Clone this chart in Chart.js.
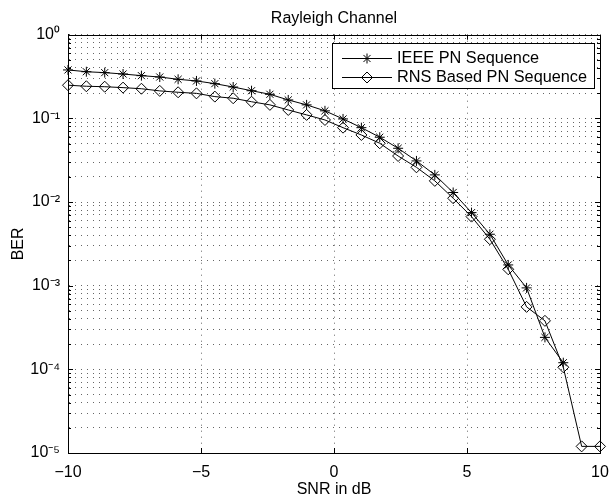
<!DOCTYPE html>
<html>
<head>
<meta charset="utf-8">
<script src="https://cdn.jsdelivr.net/npm/chart.js@4.4.1/dist/chart.umd.min.js"></script>
<style>
  html, body { margin: 0; padding: 0; background: #fff; }
  #wrap { width: 610px; height: 499px; }
</style>
</head>
<body>
<div id="wrap"><canvas id="c" width="610" height="499"></canvas></div>
<script>
// ---- data ----
const snrDb = [-10, -9.31, -8.62, -7.93, -7.24, -6.55, -5.86, -5.17, -4.48, -3.79,
               -3.10, -2.41, -1.72, -1.03, -0.34, 0.34, 1.03, 1.72, 2.41, 3.10,
               3.79, 4.48, 5.17, 5.86, 6.55, 7.24, 7.93, 8.62, 9.31, 10];
const ieeeBer = [0.379, 0.361, 0.352, 0.339, 0.324, 0.312, 0.293, 0.280, 0.260, 0.237,
                 0.214, 0.194, 0.166, 0.145, 0.123, 0.0984, 0.0774, 0.0595, 0.0439, 0.0310,
                 0.0211, 0.0130, 0.00747, 0.00412, 0.00177, 0.000941, 0.000241, 0.000120, null, null];
const rnsBer = [0.249, 0.242, 0.239, 0.233, 0.226, 0.213, 0.205, 0.199, 0.182, 0.174,
                0.158, 0.145, 0.126, 0.110, 0.0957, 0.0774, 0.0633, 0.0504, 0.0355, 0.0260,
                0.0179, 0.0111, 0.00669, 0.00359, 0.00157, 0.000558, 0.000380, 0.000106, 0.0000120, 0.0000120];
const seriesNames = ['IEEE PN Sequence', 'RNS Based PN Sequence'];
const xTickValues = [-10, -5, 0, 5, 10];
const yExponents = [-5, -4, -3, -2, -1, 0];
const titleText = 'Rayleigh Channel';
const xTitle = 'SNR in dB';
const yTitle = 'BER';

// ---- helpers ----
const SUP = {'-': '\u207B', '0': '\u2070', '1': '\u00B9', '2': '\u00B2', '3': '\u00B3',
             '4': '\u2074', '5': '\u2075', '6': '\u2076', '7': '\u2077', '8': '\u2078', '9': '\u2079'};
function powLabel(e) { return '10' + String(e).split('').map(c => SUP[c]).join(''); }
function pts(ys) { return snrDb.map((x, i) => ({x: x, y: ys[i]})).filter(p => p.y !== null); }

const FONT = "'Liberation Sans', Arial, Helvetica, sans-serif";
Chart.defaults.font.family = FONT;
Chart.defaults.font.size = 16;
Chart.defaults.color = '#000';

function drawMarker(ctx, style, x, y) {
  ctx.beginPath();
  if (style === 'star') {
    const r = 5;
    for (let k = 0; k < 4; k++) {
      const a = k * Math.PI / 4;
      ctx.moveTo(x - r * Math.cos(a), y - r * Math.sin(a));
      ctx.lineTo(x + r * Math.cos(a), y + r * Math.sin(a));
    }
  } else {
    const r = 5.5;
    ctx.moveTo(x - r, y); ctx.lineTo(x, y - r); ctx.lineTo(x + r, y); ctx.lineTo(x, y + r); ctx.closePath();
  }
  ctx.stroke();
}

const framePlugin = {
  id: 'frame',
  afterDraw(chart) {
    const ctx = chart.ctx;
    const a = chart.chartArea;
    const xs = chart.scales.x, ys = chart.scales.y;
    ctx.save();
    ctx.strokeStyle = '#000';
    ctx.lineWidth = 1;
    // box
    ctx.strokeRect(Math.round(a.left) + 0.5, Math.round(a.top) + 0.5,
                   Math.round(a.right - a.left), Math.round(a.bottom - a.top));
    // inner ticks
    ctx.beginPath();
    xs.ticks.forEach(t => {
      const px = Math.round(xs.getPixelForValue(t.value)) + 0.5;
      ctx.moveTo(px, a.bottom); ctx.lineTo(px, a.bottom - 5);
      ctx.moveTo(px, a.top); ctx.lineTo(px, a.top + 5);
    });
    ys.ticks.forEach(t => {
      const py = Math.round(ys.getPixelForValue(t.value)) + 0.5;
      const e = Math.log10(t.value);
      const len = Math.abs(e - Math.round(e)) < 1e-6 ? 5 : 3;
      ctx.moveTo(a.left, py); ctx.lineTo(a.left + len, py);
      ctx.moveTo(a.right, py); ctx.lineTo(a.right - len, py);
    });
    ctx.stroke();
    // legend
    const bx = 332, by = 43, bw = 262, bh = 45;
    ctx.fillStyle = '#fff';
    ctx.fillRect(bx, by, bw, bh);
    ctx.strokeRect(bx + 0.5, by + 0.5, bw, bh);
    const styles = ['star', 'diamond'];
    ctx.font = '16.3px ' + FONT;
    ctx.textBaseline = 'middle';
    ctx.textAlign = 'left';
    chart.data.datasets.forEach((ds, i) => {
      const ly = Math.round(by + 14.5 + i * 19.5) + 0.5;
      ctx.beginPath();
      ctx.moveTo(342, ly); ctx.lineTo(392, ly);
      ctx.stroke();
      drawMarker(ctx, styles[i], 367, ly);
      ctx.fillStyle = '#000';
      ctx.fillText(ds.label, 397, ly);
    });
    ctx.restore();
  }
};

new Chart(document.getElementById('c'), {
  type: 'line',
  data: {
    datasets: [
      { label: seriesNames[0], data: pts(ieeeBer), borderColor: '#000', borderWidth: 1,
        pointStyle: 'star', pointRadius: 5, pointBorderWidth: 1, pointBorderColor: '#000',
        pointBackgroundColor: 'rgba(0,0,0,0)', fill: false, tension: 0, clip: false },
      { label: seriesNames[1], data: pts(rnsBer), borderColor: '#000', borderWidth: 1,
        pointStyle: 'rectRot', pointRadius: 5.5, pointBorderWidth: 1, pointBorderColor: '#000',
        pointBackgroundColor: 'rgba(0,0,0,0)', fill: false, tension: 0, clip: false }
    ]
  },
  options: {
    responsive: false,
    animation: false,
    events: [],
    layout: { padding: { left: 0, right: 10, top: 0, bottom: 0 } },
    plugins: {
      legend: { display: false },
      tooltip: { enabled: false },
      title: { display: true, text: titleText, fullSize: false,
               font: { size: 16, weight: 'normal' }, color: '#000',
               padding: { top: 9, bottom: 6.5 } }
    },
    scales: {
      x: {
        type: 'linear', min: -10, max: 10,
        afterFit(s) { s.height = 46; s.paddingLeft = 0; s.paddingRight = 0; s.paddingTop = 0; s.paddingBottom = 0; },
        afterBuildTicks(s) { s.ticks = xTickValues.map(v => ({ value: v })); },
        ticks: { padding: 10, autoSkip: false, font: { size: 16 },
                 callback: v => (v < 0 ? '\u2212' + Math.abs(v) : String(v)) },
        grid: { color: '#666', lineWidth: 1, drawTicks: false },
        border: { display: true, color: '#000', width: 1, dash: [1, 5] },
        title: { display: true, text: xTitle, font: { size: 16 }, padding: { top: 0, bottom: 0 } }
      },
      y: {
        type: 'logarithmic', min: 1e-5, max: 1,
        afterFit(s) { s.width = 68; s.paddingLeft = 0; s.paddingRight = 0; s.paddingTop = 0; s.paddingBottom = 0; },
        afterBuildTicks(s) {
          const t = [];
          yExponents.forEach(e => {
            for (let m = 1; m <= 9; m++) {
              if (e === 0 && m > 1) break;
              t.push({ value: m * Math.pow(10, e), major: m === 1 });
            }
          });
          s.ticks = t;
        },
        ticks: { padding: 8, autoSkip: false, font: { size: 16 },
                 callback: v => {
                   const e = Math.log10(v);
                   return Math.abs(e - Math.round(e)) < 1e-6 ? powLabel(Math.round(e)) : '';
                 } },
        grid: { color: '#666', lineWidth: 1, drawTicks: false },
        border: { display: true, color: '#000', width: 1, dash: [1, 5] },
        title: { display: true, text: yTitle, font: { size: 16 }, padding: { top: 9, bottom: 0 } }
      }
    }
  },
  plugins: [framePlugin]
});
</script>
</body>
</html>
